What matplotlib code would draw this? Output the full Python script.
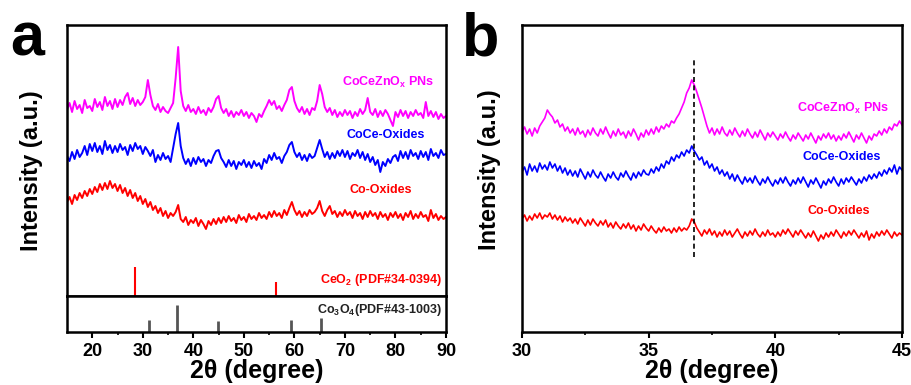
import matplotlib
matplotlib.use("Agg")
import matplotlib.pyplot as plt
import numpy as np

plt.rcParams['font.family'] = ['Liberation Sans', 'DejaVu Sans']
plt.rcParams['font.weight'] = 'bold'
plt.rcParams['mathtext.fontset'] = 'custom'
plt.rcParams['mathtext.rm'] = 'Liberation Sans:bold'
plt.rcParams['mathtext.it'] = 'Liberation Sans:bold'
plt.rcParams['mathtext.bf'] = 'Liberation Sans:bold'

# ---- panel a: full scan 15-90 deg, 0.5 deg steps (stacked, a.u.) ----
two_theta_a = np.arange(15, 90.01, 0.5)

coceznox_a = [
    186, 193, 184, 195, 187, 191, 183, 196, 188, 190,
    185, 197, 189, 194, 186, 199, 190, 195, 187, 197,
    189, 196, 191, 199, 203, 192, 198, 190, 196, 191,
    194, 199, 216, 201, 190, 186, 192, 184, 189, 185,
    183, 188, 193, 218, 249, 205, 190, 185, 191, 184,
    187, 182, 189, 183, 186, 181, 188, 184, 189, 197,
    200, 188, 183, 187, 180, 185, 179, 184, 181, 186,
    180, 184, 178, 183, 180, 174, 182, 179, 185, 190,
    196, 191, 195, 187, 190, 185, 191, 196, 206, 209,
    195, 188, 184, 189, 182, 187, 181, 188, 186, 195,
    211, 202, 189, 184, 188, 181, 186, 179, 184, 180,
    186, 181, 185, 178, 184, 180, 187, 182, 186, 198,
    184, 181, 187, 179, 185, 180, 186, 182, 176, 170,
    184, 179, 186, 180, 185, 178, 184, 180, 186, 181,
    183, 178, 194, 180, 185, 179, 184, 177, 182, 178,
    180,
]

coce_a = [
    140, 135, 144, 137, 146, 139, 143, 150, 141, 152,
    145, 153, 144, 150, 142, 155, 146, 151, 143, 150,
    144, 152, 146, 149, 141, 151, 145, 153, 147, 150,
    142, 149, 145, 140, 146, 134, 141, 136, 143, 137,
    140, 134, 148, 162, 173, 150, 138, 132, 137, 130,
    138, 132, 139, 134, 137, 130, 136, 133, 140, 145,
    146, 138, 134, 129, 136, 130, 135, 127, 134, 131,
    136, 129, 134, 128, 135, 130, 133, 127, 137, 133,
    141, 136, 143, 137, 139, 133, 140, 144, 151, 154,
    144, 139, 143, 136, 141, 135, 142, 138, 140, 148,
    156, 147, 139, 144, 137, 143, 138, 145, 140, 146,
    139, 145, 137, 143, 140, 146, 138, 144, 136, 142,
    134, 139, 131, 136, 124, 134, 130, 137, 133, 139,
    141, 135, 145, 138, 144, 137, 146, 140, 143, 137,
    145, 139, 144, 136, 147, 140, 143, 138, 146, 141,
    142,
]

co_a = [
    94, 99, 92, 101, 96, 103, 98, 105, 100, 107,
    102, 109, 104, 112, 106, 113, 107, 115, 108, 112,
    105, 111, 103, 108, 100, 106, 98, 103, 95, 100,
    92, 97, 89, 94, 86, 90, 83, 88, 80, 85,
    78, 83, 80, 84, 91, 77, 74, 79, 71, 76,
    73, 78, 70, 76, 72, 67, 75, 71, 77, 72,
    78, 73, 79, 74, 80, 75, 78, 73, 81, 76,
    79, 74, 82, 77, 80, 76, 83, 78, 81, 77,
    84, 79, 85, 80, 83, 78, 86, 81, 88, 94,
    86, 81, 85, 79, 84, 80, 86, 82, 84, 88,
    95, 85, 80, 86, 90, 82, 85, 79, 84, 80,
    86, 81, 84, 78, 85, 80, 83, 77, 84, 79,
    85, 80, 83, 77, 84, 79, 82, 76, 83, 79,
    84, 78, 82, 76, 83, 79, 85, 77, 82, 78,
    84, 79, 81, 75, 86, 78, 82, 76, 80, 77,
    79,
]

# reference patterns
ceo2_pos = [28.55, 56.33]
ceo2_int = [100, 48]
co3o4_pos = [31.27, 36.85, 44.81, 59.36, 65.24]
co3o4_int = [45, 100, 40, 45, 52]

# ---- panel b: zoom 30-45 deg, 0.1 deg steps ----
two_theta_b = np.arange(30, 45.001, 0.1)

coceznox_b = [
    200, 205, 198, 203, 196, 204, 199, 206, 210, 214,
    222, 218, 215, 209, 212, 205, 208, 201, 205, 199,
    203, 197, 204, 198, 201, 195, 202, 197, 204, 199,
    196, 203, 198, 205, 199, 194, 201, 196, 203, 197,
    200, 194, 201, 196, 203, 198, 192, 199, 195, 202,
    197, 203, 198, 205, 200, 206, 203, 208, 205, 211,
    209, 214, 218, 224, 230, 239, 244, 252, 247, 240,
    232, 224, 215, 206, 199, 204, 197, 203, 198, 205,
    199, 196, 202, 197, 204, 199, 195, 201, 196, 203,
    198, 194, 200, 195, 202, 197, 192, 199, 195, 200,
    196, 192, 198, 194, 200, 195, 191, 197, 193, 199,
    195, 191, 197, 193, 199, 194, 189, 196, 192, 198,
    194, 199, 193, 197, 191, 196, 192, 198, 194, 200,
    195, 190, 197, 193, 199, 194, 189, 196, 192, 198,
    196, 201, 197, 203, 199, 205, 202, 208, 206, 211,
    207,
]

coce_b = [
    160, 165, 157, 168, 161, 166, 160, 169, 163, 167,
    162, 170, 164, 168, 161, 166, 159, 164, 157, 162,
    156, 161, 155, 163, 158, 153, 160, 155, 162, 157,
    154, 160, 155, 151, 158, 154, 160, 155, 152, 159,
    155, 161, 156, 152, 159, 154, 160, 156, 162, 158,
    157, 163, 159, 165, 161, 168, 164, 171, 168, 175,
    171, 177, 174, 180, 176, 182, 179, 186, 181, 177,
    172, 175, 167, 171, 164, 168, 161, 165, 158, 162,
    156, 160, 153, 158, 151, 157, 152, 148, 155, 150,
    154, 149, 156, 151, 147, 153, 149, 155, 150, 146,
    152, 148, 154, 149, 155, 150, 146, 152, 148, 154,
    149, 155, 150, 145, 152, 148, 154, 149, 144, 151,
    147, 153, 149, 155, 150, 146, 153, 148, 154, 150,
    155, 151, 147, 153, 149, 155, 151, 157, 153, 158,
    154, 160, 156, 162, 158, 164, 160, 167, 158, 165,
    162,
]

co_b = [
    113, 117, 111, 116, 112, 118, 114, 119, 113, 117,
    115, 119, 113, 117, 112, 116, 110, 115, 111, 114,
    109, 113, 108, 114, 110, 106, 112, 107, 113, 109,
    106, 111, 107, 112, 105, 109, 104, 110, 106, 103,
    108, 104, 109, 103, 107, 101, 106, 102, 108, 104,
    101, 106, 102, 99, 104, 100, 105, 101, 103, 99,
    104, 100, 105, 101, 104, 102, 106, 113, 110, 104,
    100, 96, 102, 98, 103, 97, 101, 95, 100, 96,
    102, 97, 101, 95, 99, 103, 98, 94, 100, 96,
    101, 97, 103, 98, 95, 100, 96, 102, 97, 99,
    95, 100, 96, 102, 98, 103, 99, 95, 101, 97,
    102, 98, 94, 99, 95, 101, 96, 91, 97, 93,
    99, 95, 100, 96, 102, 98, 94, 100, 96, 101,
    97, 102, 98, 94, 99, 95, 101, 92, 98, 94,
    100, 96, 101, 97, 102, 98, 94, 100, 96, 99,
    97,
]

MAG, BLU, RED = '#ff00ff', '#0000ff', '#ff0000'
W, H = 912, 385

fig = plt.figure(figsize=(W / 100, H / 100), dpi=100)


def box(l, t, r, b):
    return [l / W, 1 - b / H, (r - l) / W, (b - t) / H]


ax_a = fig.add_axes(box(67, 25, 446, 296))
ax_ref = fig.add_axes(box(67, 296, 446, 332), sharex=ax_a)
ax_b = fig.add_axes(box(522, 25, 902, 332))

for ax in (ax_a, ax_ref, ax_b):
    for s in ax.spines.values():
        s.set_linewidth(1.8)
    ax.set_yticks([])
    ax.tick_params(axis='x', direction='out', width=1.5, length=4, labelsize=13, pad=4)
    ax.tick_params(axis='x', which='minor', direction='out', width=1.2, length=2.5)

# panel a
ax_a.plot(two_theta_a, coceznox_a, color=MAG, lw=1.4)
ax_a.plot(two_theta_a, coce_a, color=BLU, lw=1.4)
ax_a.plot(two_theta_a, co_a, color=RED, lw=1.4)
ax_a.vlines(ceo2_pos, 0, np.array(ceo2_int) * 0.29, color=RED, lw=1.5)
ax_a.set_ylim(0, 271)
ax_a.set_xlim(15, 90)
ax_a.tick_params(axis='x', which='both', bottom=False, labelbottom=False)

ax_a.text(78.5, 214, 'CoCeZnO$_x$ PNs', color=MAG, fontsize=9, ha='center', va='center')
ax_a.text(78.1, 161, 'CoCe-Oxides', color=BLU, fontsize=9, ha='center', va='center')
ax_a.text(77.1, 106, 'Co-Oxides', color=RED, fontsize=9, ha='center', va='center')
ax_a.text(89.2, 16, 'CeO$_2$ (PDF#34-0394)', color=RED, fontsize=9, ha='right', va='center')

ax_ref.vlines(co3o4_pos, 0, co3o4_int, color='#555555', lw=2)
ax_ref.set_ylim(0, 133)
ax_ref.text(89.2, 81, 'Co$_3$O$_4$(PDF#43-1003)', color='#222222', fontsize=9, ha='right', va='center')
ax_ref.set_xticks(range(20, 91, 10))
ax_ref.set_xticks(range(25, 90, 10), minor=True)
ax_ref.set_xlabel('2θ (degree)', fontsize=18, fontweight='bold', labelpad=-1)

# panel b
ax_b.plot(two_theta_b, coceznox_b, color=MAG, lw=1.2)
ax_b.plot(two_theta_b, coce_b, color=BLU, lw=1.2)
ax_b.plot(two_theta_b, co_b, color=RED, lw=1.2)
ax_b.vlines(36.8, 75, 274, color='black', lw=1.2, linestyles=(0, (3, 2)))
ax_b.set_xlim(30, 45)
ax_b.set_ylim(0, 307)
ax_b.set_xticks([30, 35, 40, 45])
ax_b.set_xticks([32.5, 37.5, 42.5], minor=True)
ax_b.set_xlabel('2θ (degree)', fontsize=18, fontweight='bold', labelpad=-1)

ax_b.text(42.67, 224, 'CoCeZnO$_x$ PNs', color=MAG, fontsize=9, ha='center', va='center')
ax_b.text(42.6, 175, 'CoCe-Oxides', color=BLU, fontsize=9, ha='center', va='center')
ax_b.text(42.5, 121, 'Co-Oxides', color=RED, fontsize=9, ha='center', va='center')

# axis titles and panel letters
fig.text(32 / W, 1 - 171 / H, 'Intensity (a.u.)', rotation=90, fontsize=17,
         fontweight='bold', ha='center', va='center')
fig.text(490 / W, 1 - 170 / H, 'Intensity (a.u.)', rotation=90, fontsize=17,
         fontweight='bold', ha='center', va='center')
fig.text(10 / W, 1 - 56 / H, 'a', fontsize=44, fontweight='bold', ha='left', va='baseline')
fig.text(462 / W, 1 - 56 / H, 'b', fontsize=44, fontweight='bold', ha='left', va='baseline')

fig.savefig('out.png', dpi=100)
